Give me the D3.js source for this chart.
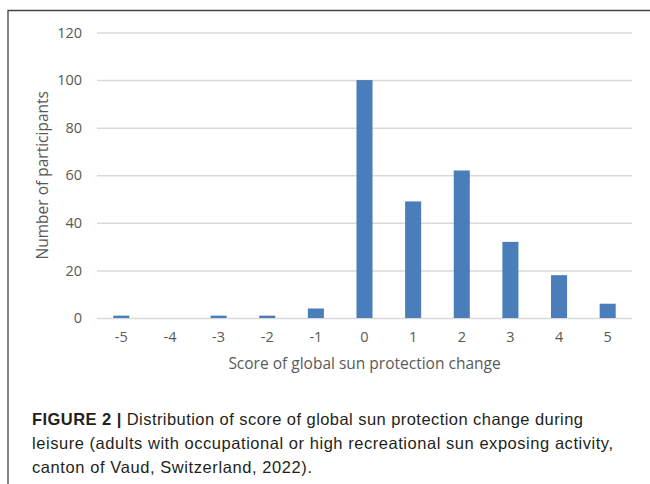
<!DOCTYPE html>
<html><head><meta charset="utf-8">
<script src="https://cdn.jsdelivr.net/npm/d3@7"></script>
<style>body{margin:0;background:#fff}svg{display:block}</style>
</head><body>
<script>
const categories = ["-5","-4","-3","-2","-1","0","1","2","3","4","5"];
const values = [1,0,1,1,4,100,49,62,32,18,6];
const yTicks = [0,20,40,60,80,100,120];
const yTitle = "Number of participants";
const xTitle = "Score of global sun protection change";
const captionBold = "FIGURE 2 |";
const captionLines = [
  " Distribution of score of global sun protection change during",
  "leisure (adults with occupational or high recreational sun exposing activity,",
  "canton of Vaud, Switzerland, 2022)."
];

(function(){
const W=650,H=484;
const svg=d3.select("body").append("svg").attr("width",W).attr("height",H);
// frame
svg.append("path").attr("d","M8,484V10.5H650").attr("fill","none").attr("stroke","#444").attr("stroke-width",1.3);

const pL=97,pR=632,pT=32.5,pB=318;
const x=d3.scaleBand().domain(categories).range([pL,pR]).paddingInner(0.67).paddingOuter(0.335);
const y=d3.scaleLinear().domain([0,120]).range([pB,pT]);
const font="'Open Sans', Carlito, sans-serif";

// grid
const ya=svg.append("g").attr("transform",`translate(${pL},0)`)
  .call(d3.axisLeft(y).tickValues(yTicks).tickSize(-(pR-pL)).tickPadding(15));
ya.select(".domain").remove();
ya.selectAll(".tick line").attr("stroke","#d9d9d9").attr("stroke-width",1.5);
ya.selectAll(".tick text").attr("fill","#595959").attr("font-size",14.5).attr("font-family",font);

// bars
svg.append("g").selectAll("rect").data(values).join("rect")
  .attr("x",(d,i)=>x(categories[i]))
  .attr("width",x.bandwidth())
  .attr("y",d=>y(d))
  .attr("height",d=>y(0)-y(d))
  .attr("fill","#4a7ebb");

const xa=svg.append("g").attr("transform",`translate(0,${pB})`)
  .call(d3.axisBottom(x).tickSize(0).tickPadding(14));
xa.select(".domain").remove();
xa.selectAll(".tick text").attr("fill","#595959").attr("font-size",14.5).attr("font-family",font);

svg.append("text").attr("transform",`translate(48,${(pT+pB)/2}) rotate(-90)`)
  .attr("text-anchor","middle").attr("fill","#595959").attr("font-size",15.5).attr("font-family",font).text(yTitle);
svg.append("text").attr("x",(pL+pR)/2).attr("y",369)
  .attr("text-anchor","middle").attr("fill","#595959").attr("font-size",15.5).attr("font-family",font).text(xTitle);

// caption
const cf="'Liberation Sans', Arial, sans-serif";
const fs=16.5;
const t1=svg.append("text").attr("x",32).attr("y",425).attr("font-size",fs).attr("font-family",cf).attr("fill","#231f20")
  .attr("textLength",551).attr("lengthAdjust","spacing");
t1.append("tspan").attr("font-weight","bold").text(captionBold);
t1.append("tspan").text(captionLines[0]);
svg.append("text").attr("x",32).attr("y",449).attr("font-size",fs).attr("font-family",cf).attr("fill","#231f20")
  .attr("textLength",581).attr("lengthAdjust","spacing").text(captionLines[1]);
svg.append("text").attr("x",32).attr("y",473).attr("font-size",fs).attr("font-family",cf).attr("fill","#231f20")
  .attr("textLength",280).attr("lengthAdjust","spacing").text(captionLines[2]);
})();
</script>
</body></html>
